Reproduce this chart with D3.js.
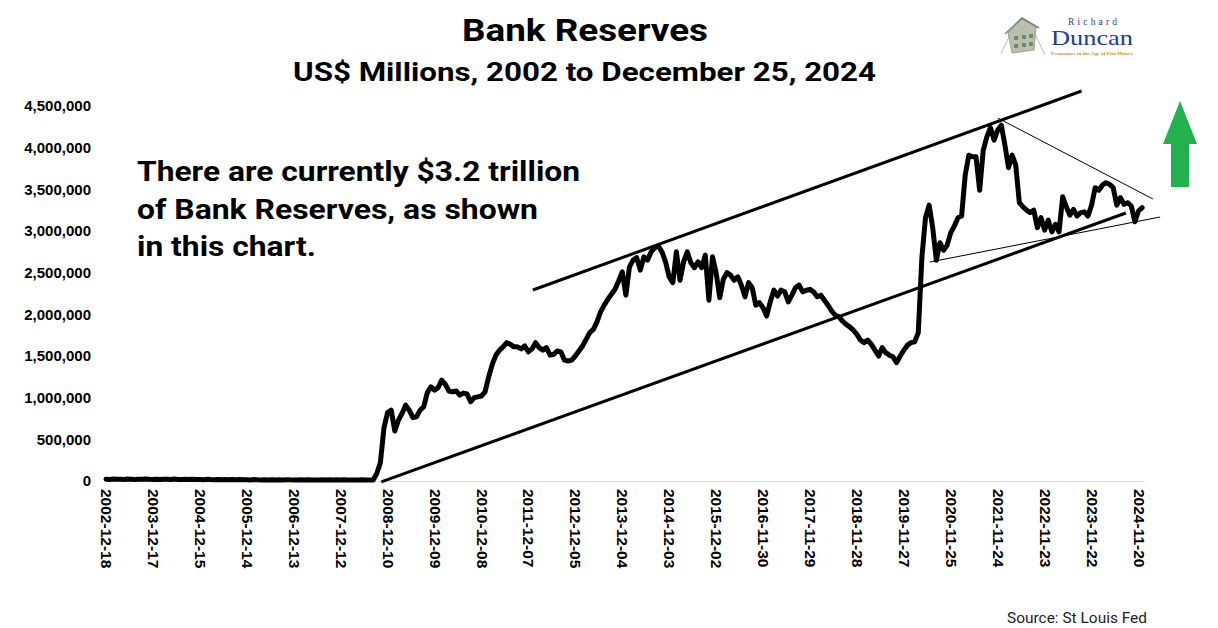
<!DOCTYPE html>
<html><head><meta charset="utf-8">
<script src="https://cdn.jsdelivr.net/npm/d3@7"></script>
<style>body{margin:0;background:#fff;} svg{display:block;}</style>
</head><body>
<svg id="c" width="1218" height="628"></svg>
<script>
// ---- data ----
const tickLabels = ["2002-12-18","2003-12-17","2004-12-15","2005-12-14","2006-12-13","2007-12-12",
  "2008-12-10","2009-12-09","2010-12-08","2011-12-07","2012-12-05","2013-12-04","2014-12-03",
  "2015-12-02","2016-11-30","2017-11-29","2018-11-28","2019-11-27","2020-11-25","2021-11-24",
  "2022-11-23","2023-11-22","2024-11-20"];
const weeksPerLabel = 52;
const totalWeeks = 1149;          // 2002-12-18 .. 2024-12-25, weekly
const weekStep = 4;               // reserves sampled every 4 weeks from 2002-12-18
const yTicks = [0,500000,1000000,1500000,2000000,2500000,3000000,3500000,4000000,4500000];
const reserves = [
 21000,19000,24000,20000,22000,18000,23000,21000,19000,22000,20000,24000,21000,
 19000,22000,18000,21000,20000,17000,23000,19000,18000,21000,17000,20000,19000,
 18000,16000,20000,17000,15000,19000,16000,18000,14000,17000,15000,19000,16000,
 15000,13000,17000,14000,12000,16000,13000,15000,12000,14000,13000,16000,14000,
 13000,11000,15000,12000,14000,11000,13000,12000,16000,12000,14000,13000,15000,
 12000,14000,11000,13000,12000,11000,14000,12000,11000,13000,
 90000,220000,640000,820000,850000,600000,730000,810000,910000,850000,
 760000,770000,850000,890000,1060000,1130000,1090000,1120000,1210000,1160000,
 1080000,1070000,1080000,1030000,1055000,1045000,950000,1000000,1010000,1020000,
 1070000,1250000,1400000,1510000,1570000,1610000,1660000,1640000,1610000,1610000,
 1585000,1620000,1550000,1585000,1660000,1600000,1570000,1600000,1510000,1520000,
 1560000,1550000,1450000,1440000,1450000,1500000,1560000,1620000,1700000,1780000,
 1820000,1910000,2030000,2110000,2180000,2240000,2300000,2400000,2510000,2230000,
 2570000,2650000,2680000,2530000,2690000,2650000,2750000,2800000,2820000,2750000,
 2630000,2450000,2380000,2750000,2410000,2630000,2750000,2620000,2560000,2630000,
 2560000,2710000,2170000,2690000,2500000,2200000,2420000,2500000,2470000,2410000,
 2450000,2350000,2210000,2380000,2320000,2110000,2140000,2080000,1980000,2150000,
 2290000,2220000,2290000,2270000,2150000,2230000,2320000,2350000,2270000,2290000,
 2300000,2270000,2210000,2230000,2170000,2110000,2040000,1990000,1970000,1920000,
 1880000,1850000,1810000,1760000,1690000,1660000,1690000,1640000,1570000,1500000,
 1600000,1540000,1510000,1490000,1420000,1500000,1570000,1630000,1660000,1670000,
 1780000,2680000,3160000,3310000,3040000,2650000,2860000,2770000,2830000,2980000,
 3060000,3160000,3180000,3670000,3910000,3890000,3890000,3490000,3970000,4130000,
 4240000,4090000,4210000,4270000,4030000,3760000,3910000,3790000,3340000,3290000,
 3250000,3220000,3250000,3040000,3160000,3010000,3130000,2990000,3080000,2990000,
 3410000,3290000,3190000,3260000,3180000,3220000,3230000,3180000,3310000,3520000,
 3490000,3550000,3580000,3560000,3520000,3310000,3400000,3320000,3340000,3300000,
 3110000,3240000,3280000
];
// trend lines drawn on the chart: [weekIndex, value] end points
const channelLines = [
  [[473, 2292000], [1081, 4680000]],
  [[305, -10000], [1130, 3216000]]
];
const triangleLines = [
  [[988, 4356000], [1160, 3384000]],
  [[913, 2628000], [1168, 3168000]]
];
const titleText = "Bank Reserves";
const subtitleText = "US$ Millions, 2002 to December 25, 2024";
const noteLines = ["There are currently $3.2 trillion", "of Bank Reserves, as shown", "in this chart."];
const sourceText = "Source: St Louis Fed";

// ---- chart ----
const svg = d3.select("#c");
const x = d3.scaleLinear().domain([0, totalWeeks]).range([106, 1143]);
const y = d3.scaleLinear().domain([0, 4500000]).range([481, 106]);
const AX = "'Liberation Sans', Arial, sans-serif";
const HF = "Roboto, 'Open Sans', sans-serif";

// y axis
const ya = svg.append("g").attr("transform", "translate(93,0)")
  .call(d3.axisLeft(y).tickValues(yTicks).tickSize(0).tickPadding(2).tickFormat(d3.format(",")));
ya.select(".domain").remove();
ya.selectAll("text").attr("font-family", AX).attr("font-weight", "bold").attr("font-size", 15).attr("fill", "#000");

// x axis
const xa = svg.append("g").attr("transform", "translate(0,481)")
  .call(d3.axisBottom(x).tickValues(tickLabels.map((d, i) => i * weeksPerLabel))
    .tickSize(0).tickFormat((d, i) => tickLabels[i]));
xa.select(".domain").attr("stroke", "#d9d9d9").attr("stroke-width", 1.2);
xa.selectAll("text").attr("font-family", AX).attr("font-weight", "bold").attr("font-size", 15.5).attr("fill", "#000")
  .attr("transform", "rotate(90)").attr("text-anchor", "start").attr("x", 8).attr("y", 0).attr("dy", "0.35em");

// trend lines
const seg = d3.line().x(d => x(d[0])).y(d => y(d[1]));
svg.append("g").selectAll("path").data(channelLines).join("path")
  .attr("d", seg).attr("stroke", "#000").attr("stroke-width", 3).attr("fill", "none");
svg.append("g").selectAll("path").data(triangleLines).join("path")
  .attr("d", seg).attr("stroke", "#000").attr("stroke-width", 1).attr("fill", "none");

// data line
const line = d3.line().x((d, i) => x(i * weekStep)).y(d => y(d));
svg.append("path").datum(reserves).attr("d", line)
  .attr("fill", "none").attr("stroke", "#000").attr("stroke-width", 5)
  .attr("stroke-linejoin", "round").attr("stroke-linecap", "round");

// titles
svg.append("text").text(titleText).attr("x", 462).attr("y", 41)
  .attr("font-family", HF).attr("font-weight", 700).attr("font-size", 31)
  .attr("textLength", 246).attr("lengthAdjust", "spacingAndGlyphs");
svg.append("text").text(subtitleText).attr("x", 293).attr("y", 81)
  .attr("font-family", HF).attr("font-weight", 700).attr("font-size", 26)
  .attr("textLength", 583).attr("lengthAdjust", "spacingAndGlyphs");

// note
const noteW = [443, 401, 179];
const noteY = [181, 219, 256];
svg.append("g").selectAll("text").data(noteLines).join("text")
  .text(d => d).attr("x", 137).attr("y", (d, i) => noteY[i])
  .attr("font-family", HF).attr("font-weight", 700).attr("font-size", 28)
  .attr("textLength", (d, i) => noteW[i]).attr("lengthAdjust", "spacingAndGlyphs");

// source
svg.append("text").text(sourceText).attr("x", 1007).attr("y", 623)
  .attr("font-family", HF).attr("font-size", 14).attr("fill", "#222")
  .attr("textLength", 140).attr("lengthAdjust", "spacingAndGlyphs");

// green arrow
svg.append("path").attr("d", "M1180,101 L1197,144 L1189,144 L1189,187 L1171,187 L1171,144 L1163,144 Z")
  .attr("fill", "#22b14c");

// logo
const logo = svg.append("g");
logo.append("line").attr("x1", 1001).attr("y1", 54).attr("x2", 1012).attr("y2", 30).attr("stroke", "#bbb");
logo.append("line").attr("x1", 1045).attr("y1", 55).attr("x2", 1032).attr("y2", 28).attr("stroke", "#bbb");
logo.append("path").attr("d", "M1008,33 L1022,19 L1036,27 L1034,50 L1012,53 Z").attr("fill", "#b9bfae").attr("stroke", "#8a9481").attr("stroke-width", 0.8);
logo.append("path").attr("d", "M1005,34 L1022,18 L1039,28").attr("fill", "none").attr("stroke", "#7c8674").attr("stroke-width", 1.5);
[[1014,36],[1022,35],[1029,34],[1014,44],[1022,43],[1029,42]].forEach(p =>
  logo.append("rect").attr("x", p[0]).attr("y", p[1]).attr("width", 4).attr("height", 4).attr("fill", "#6f8a68"));
logo.append("text").text("Richard").attr("x", 1068).attr("y", 25)
  .attr("font-family", "'Liberation Serif', serif").attr("font-size", 9.5).attr("fill", "#1f3e8e")
  .attr("textLength", 49).attr("lengthAdjust", "spacing");
logo.append("text").text("Duncan").attr("x", 1051).attr("y", 45)
  .attr("font-family", "'Liberation Serif', serif").attr("font-size", 22).attr("fill", "#1f3e8e")
  .attr("textLength", 82).attr("lengthAdjust", "spacingAndGlyphs");
logo.append("text").text("Economics in the Age of Fiat Money").attr("x", 1051).attr("y", 55)
  .attr("font-family", "'Liberation Serif', serif").attr("font-weight", "bold").attr("font-size", 5).attr("fill", "#e8862a")
  .attr("textLength", 82).attr("lengthAdjust", "spacingAndGlyphs");
</script>
</body></html>
